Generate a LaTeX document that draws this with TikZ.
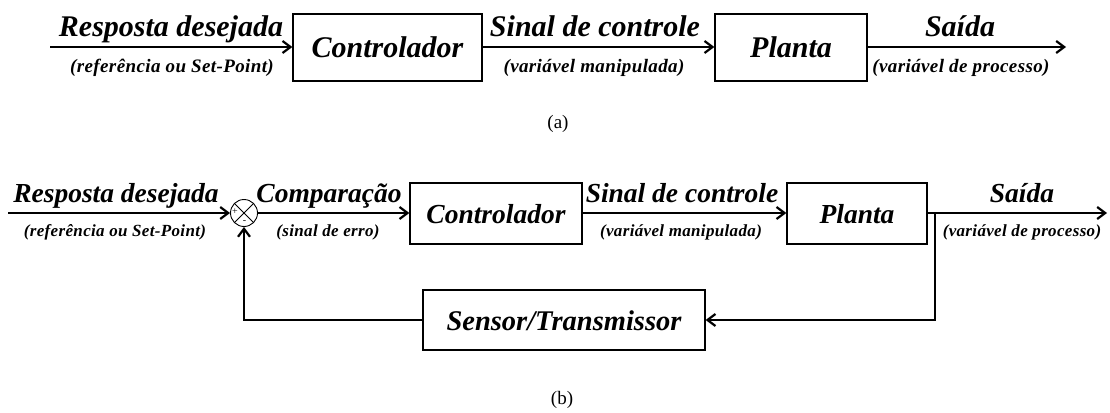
\documentclass[tikz,border=0pt]{standalone}
\usepackage{fontspec}
\setmainfont{Liberation Serif}
\newfontfamily\spacedserif[LetterSpace=2]{Liberation Serif}
\usetikzlibrary{arrows.meta}
\tikzset{
  x=1pt, y=-1pt,
  sig/.style={line width=2.2pt, -{Straight Barb[length=8pt,width=12pt]}},
  blk/.style={draw, line width=1.3pt, inner sep=0pt},
  bigA/.style={anchor=base, inner sep=0pt, font=\fontsize{30}{31}\selectfont\bfseries\itshape},
  smallA/.style={anchor=base, inner sep=0pt, font=\spacedserif\fontsize{19}{20}\selectfont\bfseries\itshape},
  bigB/.style={anchor=base, inner sep=0pt, font=\fontsize{27.5}{28}\selectfont\bfseries\itshape},
  smallB/.style={anchor=base, inner sep=0pt, font=\spacedserif\fontsize{17}{18}\selectfont\bfseries\itshape},
  capt/.style={inner sep=0pt, font=\fontsize{19}{20}\selectfont},
  sgn/.style={inner sep=0pt, font=\fontsize{10}{10}\selectfont},
}
\begin{document}
\begin{tikzpicture}
\useasboundingbox (0,0) rectangle (1110,412);

% ---------- (a) open loop ----------
\coordinate (a-in) at (50,47);
\node[blk, minimum width=189, minimum height=67] (a-ctl) at (387.5,47.5) {};
\node[blk, minimum width=152, minimum height=67] (a-plt) at (791,47.5) {};
\node[bigA] (a-ctl-t) at (a-ctl.center |- 0,57) {Controlador};
\node[bigA] (a-plt-t) at (a-plt.center |- 0,57) {Planta};
\coordinate (a-out) at (1066,47);

\draw[sig] (a-in) -- (a-ctl.west |- a-in);
\draw[sig] (a-ctl.east |- a-in) -- (a-plt.west |- a-in);
\draw[sig] (a-plt.east |- a-in) -- (a-out);

\node[bigA] (a-l1) at (171,37) {Resposta desejada};
\node[smallA] (a-s1) at (172,72) {(referência ou Set-Point)};
\node[bigA] (a-l2) at (595,37) {Sinal de controle};
\node[smallA] (a-s2) at (594,72) {(variável manipulada)};
\node[bigA] (a-l3) at (960,37) {Saída};
\node[smallA] (a-s3) at (961,72) {(variável de processo)};

\node[capt] (a-cap) at (558,124) {(a)};

% ---------- (b) closed loop ----------
\coordinate (b-in) at (8,213);
\node[draw, circle, line width=0.9pt, minimum size=27pt, inner sep=0pt] (sum) at (244,213) {};
\draw[line width=0.9pt] (sum.north west) -- (sum.south east) (sum.north east) -- (sum.south west);
\node[sgn] (plus) at (235,212) {+};
\node[sgn] (minus) at (244.5,222) {-};

\node[blk, minimum width=172, minimum height=61] (b-ctl) at (496,213.5) {};
\node[blk, minimum width=140, minimum height=61] (b-plt) at (857,213.5) {};
\node[blk, minimum width=282, minimum height=60] (sen) at (564,320) {};
\node[bigB] (b-ctl-t) at (b-ctl.center |- 0,223) {Controlador};
\node[bigB] (b-plt-t) at (b-plt.center |- 0,223) {Planta};
\node[bigB, font=\fontsize{28.5}{29}\selectfont\bfseries\itshape] (sen-t) at (sen.center |- 0,330) {Sensor/Transmissor};
\coordinate (br) at (935,213);
\coordinate (b-out) at (1107,213);

\draw[sig] (b-in) -- (sum.west);
\draw[sig] (sum.east) -- (b-ctl.west |- sum);
\draw[sig] (b-ctl.east |- sum) -- (b-plt.west |- sum);
\draw[sig] (b-plt.east |- sum) -- (b-out);
\draw[sig] (br) |- (sen.east);
\draw[sig] (sen.west) -| (sum.south);

\node[bigB] (b-l1) at (116,202) {Resposta desejada};
\node[smallB] (b-s1) at (115,236) {(referência ou Set-Point)};
\node[bigB] (b-l2) at (329,202) {Comparação};
\node[smallB] (b-s2) at (328,236) {(sinal de erro)};
\node[bigB] (b-l3) at (682,202) {Sinal de controle};
\node[smallB] (b-s3) at (681,236) {(variável manipulada)};
\node[bigB] (b-l4) at (1022,202) {Saída};
\node[smallB] (b-s4) at (1022,236) {(variável de processo)};

\node[capt] (b-cap) at (562,400) {(b)};
\end{tikzpicture}
\end{document}
